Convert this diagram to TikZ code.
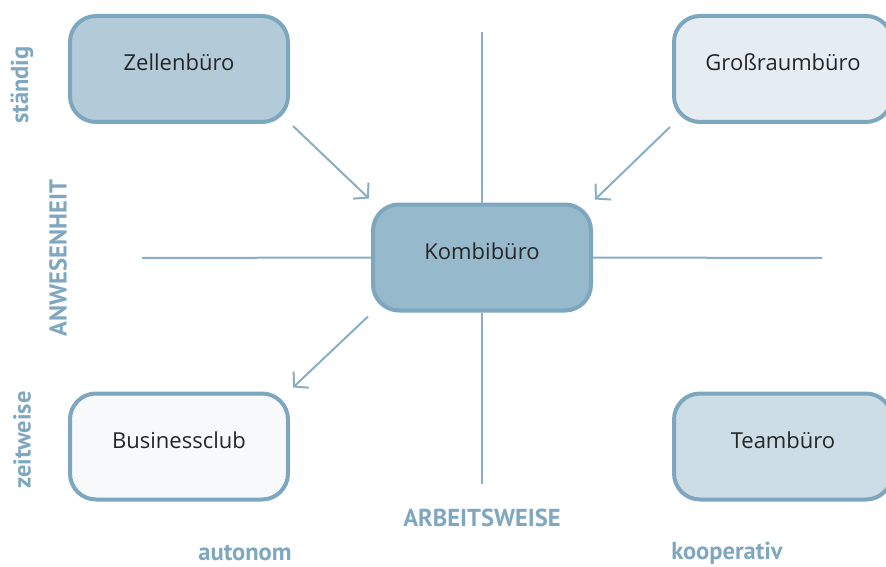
\documentclass[tikz,border=0pt]{standalone}
\usepackage{fontspec}
\setmainfont{Open Sans}
\newfontfamily\labfont{PT Sans}
\usetikzlibrary{arrows.meta}
\definecolor{bord}{HTML}{7DA6BF}
\definecolor{axiscol}{HTML}{8AAEC4}
\definecolor{labcol}{HTML}{7FA7C0}
\definecolor{fzellen}{HTML}{B3CAD8}
\definecolor{fgross}{HTML}{E5EDF3}
\definecolor{fkombi}{HTML}{97B9CC}
\definecolor{fbusiness}{HTML}{F7F9FB}
\definecolor{fteam}{HTML}{CDDDE6}
\begin{document}
\begin{tikzpicture}[x=1pt,y=-1pt,
  box/.style={draw=bord, line width=4pt, rounded corners=26pt, minimum width=218pt, minimum height=106pt, inner sep=0pt, text height=14pt, text depth=10pt, font=\fontsize{22}{26}\selectfont, text=black!85},
  axisline/.style={draw=axiscol, line width=2pt},
  arr/.style={draw=axiscol, line width=2pt, -{Straight Barb[length=10pt,width=22pt,line width=2pt]}},
  lab/.style={font=\labfont\bfseries\fontsize{24.5}{28}\selectfont, text=labcol, inner sep=0pt}]
\clip (0,0) rectangle (886,567);
\fill[white] (0,0) rectangle (886,567);
\node[box, fill=fzellen] (zellen) at (179,69) {Zellenbüro};
\node[box, fill=fgross] (gross) at (783,69) {Großraumbüro};
\node[box, fill=fkombi] (kombi) at (482,257.5) {Kombibüro};
\node[box, fill=fbusiness] (business) at (179,446.5) {Businessclub};
\node[box, fill=fteam] (team) at (783,446.5) {Teambüro};
\coordinate (ytop) at (482,32);
\coordinate (ybot) at (482,484);
\coordinate (xleft) at (142,258);
\coordinate (xright) at (822,258);
\draw[axisline] (ytop) -- (kombi.north);
\draw[axisline] (kombi.south) -- (ybot);
\draw[axisline] (xleft) -- (kombi.west);
\draw[axisline] (kombi.east) -- (xright);
\draw[arr] ([shift={(3,2)}]zellen.south east) -- ([shift={(-2,-4)}]kombi.north west);
\draw[arr] ([shift={(-2,3)}]gross.south west) -- ([shift={(2,-3)}]kombi.north east);
\draw[arr] ([shift={(-3,4)}]kombi.south west) -- ([shift={(3,-4)}]business.north east);
\node[lab, rotate=90] (staendig) at (22,85) {ständig};
\node[lab, rotate=90] (anwesenheit) at (58,258) {ANWESENHEIT};
\node[lab, rotate=90] (zeitweise) at (22,440) {zeitweise};
\node[lab] (arbeitsweise) at (482,518) {ARBEITSWEISE};
\node[lab] (autonom) at (245,553) {autonom};
\node[lab] (kooperativ) at (727,553) {kooperativ};
\end{tikzpicture}
\end{document}
